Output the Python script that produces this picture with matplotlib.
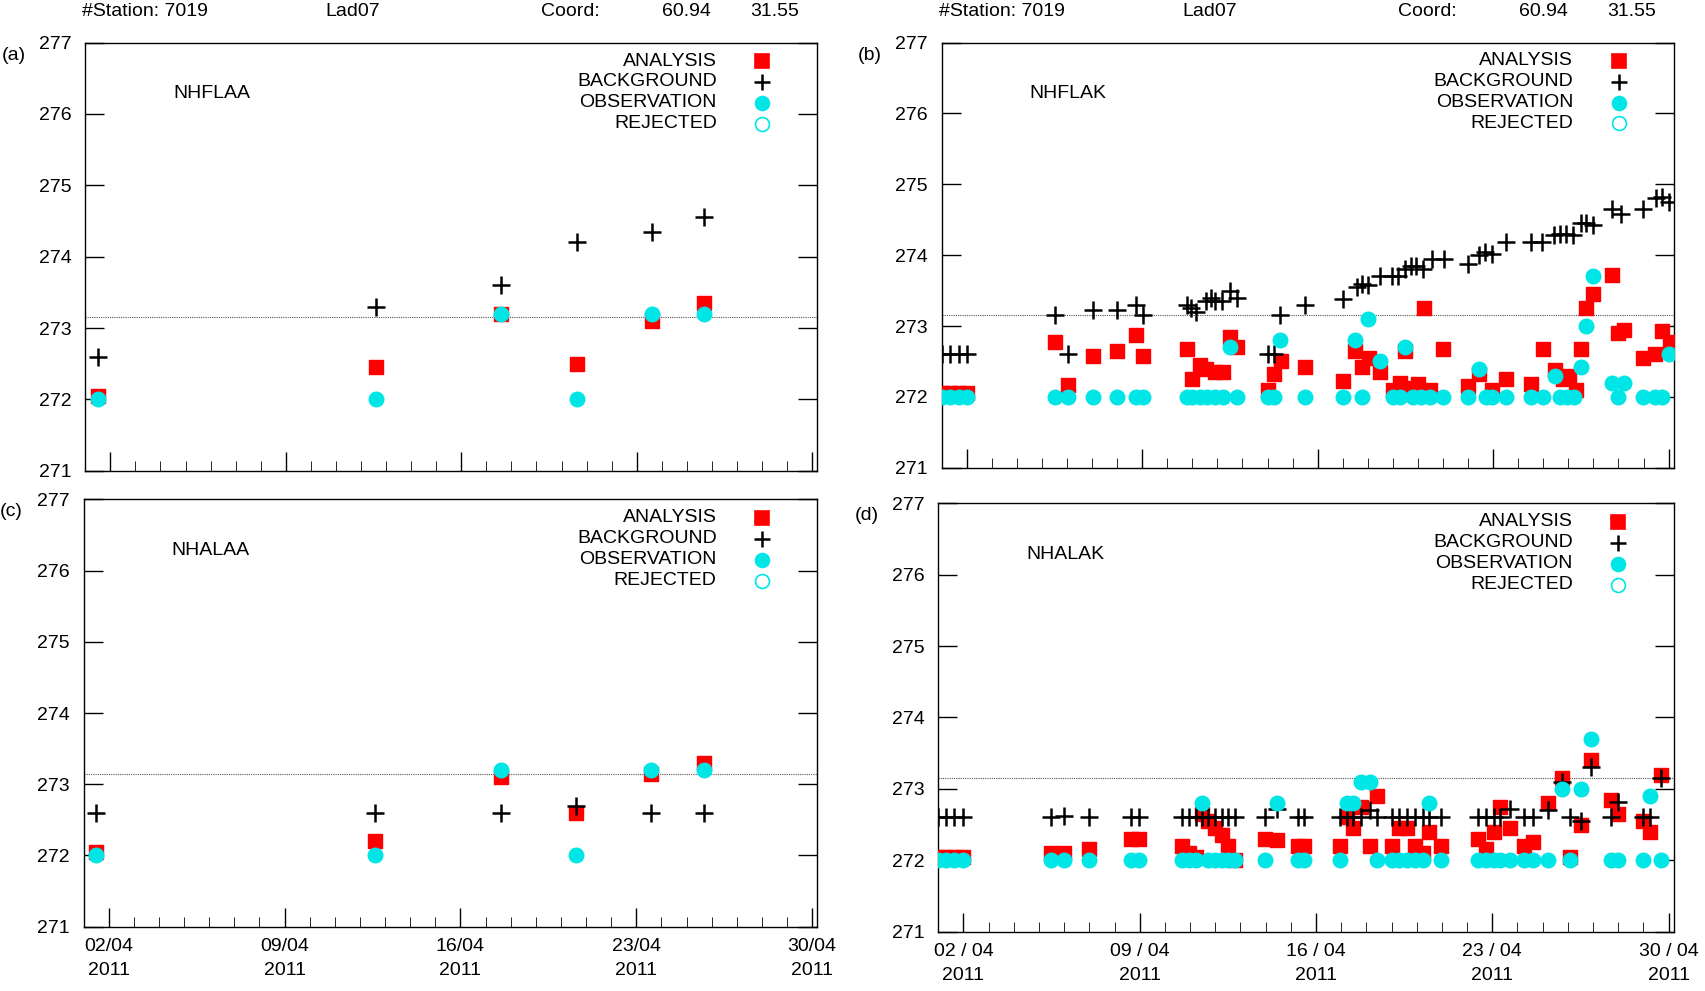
import matplotlib
matplotlib.use("Agg")
import matplotlib.pyplot as plt

plt.rcParams['font.family'] = ['Liberation Sans', 'DejaVu Sans']

# ---- Panel (a)/(c) data ----
ac_days = [1.5, 12.6, 17.6, 20.6, 23.6, 25.7]
a_ana = [272.05, 272.45, 273.2, 272.5, 273.1, 273.35]
a_bg = [272.6, 273.3, 273.6, 274.2, 274.35, 274.55]
a_obs = [272.0, 272.0, 273.2, 272.0, 273.2, 273.2]
c_ana = [272.05, 272.2, 273.1, 272.6, 273.15, 273.3]
c_bg = [272.6, 272.6, 272.6, 272.7, 272.6, 272.6]
c_obs = [272.0, 272.0, 273.2, 272.0, 273.2, 273.2]

# ---- Panel (b) data ----
b_bg_days = [1.03, 1.35, 1.67, 2.0, 5.53, 6.03, 7.02, 8.01, 8.77, 9.05, 10.77, 10.94, 11.16, 11.53, 11.74,
             11.9, 12.17, 12.5, 12.78, 14.0, 14.26, 14.5, 15.5, 17.0, 17.56, 17.78, 18.0, 18.5, 18.96, 19.2,
             19.5, 19.72, 19.93, 20.2, 20.58, 21.05, 22.0, 22.45, 22.67, 22.95, 23.5, 24.5, 24.96, 25.43,
             25.68, 25.9, 26.17, 26.5, 26.7, 26.98, 27.73, 28.1, 28.97, 29.5, 29.73, 30.0]
b_bg = [272.6, 272.6, 272.6, 272.6, 273.15, 272.6, 273.22, 273.22, 273.3, 273.15, 273.3, 273.25, 273.2,
        273.35, 273.4, 273.35, 273.35, 273.5, 273.4, 272.6, 272.6, 273.15, 273.3, 273.38, 273.55, 273.6,
        273.58, 273.7, 273.7, 273.7, 273.8, 273.85, 273.85, 273.8, 273.95, 273.95, 273.88, 274.0, 274.05,
        274.02, 274.18, 274.18, 274.18, 274.28, 274.3, 274.3, 274.28, 274.45, 274.45, 274.42, 274.65,
        274.58, 274.65, 274.8, 274.82, 274.75]
b_ana_days = [1.03, 1.35, 1.67, 2.0, 5.53, 6.03, 7.02, 8.01, 8.77, 9.05, 10.77, 11.0, 11.3, 11.53, 11.9,
              12.24, 12.5, 12.78, 14.0, 14.26, 14.54, 15.5, 17.0, 17.5, 17.78, 18.05, 18.5, 19.0, 19.27,
              19.5, 19.72, 20.0, 20.26, 20.5, 21.0, 22.0, 22.45, 22.95, 23.5, 24.5, 25.0, 25.47, 25.78,
              26.02, 26.3, 26.5, 26.72, 26.98, 27.73, 27.97, 28.23, 28.97, 29.47, 29.73, 30.05]
b_ana = [272.05, 272.05, 272.05, 272.05, 272.78, 272.17, 272.58, 272.65, 272.87, 272.58, 272.68, 272.25,
         272.45, 272.4, 272.35, 272.35, 272.85, 272.7, 272.1, 272.32, 272.5, 272.42, 272.23, 272.65, 272.42,
         272.55, 272.35, 272.1, 272.2, 272.65, 272.12, 272.18, 273.25, 272.1, 272.68, 272.15, 272.32, 272.1,
         272.25, 272.18, 272.68, 272.38, 272.25, 272.3, 272.1, 272.68, 273.25, 273.45, 273.72, 272.9, 272.95,
         272.55, 272.6, 272.93, 272.78]
b_obs_days = [1.03, 1.35, 1.67, 2.0, 5.53, 6.03, 7.02, 8.01, 8.77, 9.05, 10.77, 11.0, 11.3, 11.58, 11.9,
              12.24, 12.5, 12.78, 14.0, 14.26, 14.5, 15.5, 17.0, 17.5, 17.78, 18.0, 18.5, 19.0, 19.27, 19.5,
              19.8, 20.12, 20.5, 21.0, 22.0, 22.45, 22.7, 22.95, 23.5, 24.5, 25.0, 25.47, 25.68, 25.95, 26.23,
              26.5, 26.72, 26.98, 27.73, 27.97, 28.23, 28.97, 29.47, 29.73, 30.0]
b_obs = [272.0, 272.0, 272.0, 272.0, 272.0, 272.0, 272.0, 272.0, 272.0, 272.0, 272.0, 272.0, 272.0, 272.0,
         272.0, 272.0, 272.7, 272.0, 272.0, 272.0, 272.8, 272.0, 272.0, 272.8, 272.0, 273.1, 272.5, 272.0,
         272.0, 272.7, 272.0, 272.0, 272.0, 272.0, 272.0, 272.4, 272.0, 272.0, 272.0, 272.0, 272.0, 272.3,
         272.0, 272.0, 272.0, 272.42, 273.0, 273.7, 272.2, 272.0, 272.2, 272.0, 272.0, 272.0, 272.6]

# ---- Panel (d) data ----
d_days = [0.99, 1.31, 1.63, 2.0, 5.47, 6.0, 6.98, 8.64, 8.96, 10.69, 10.97, 11.22, 11.48, 11.72, 11.97,
          12.26, 12.52, 12.8, 13.98, 14.46, 15.28, 15.53, 16.94, 17.22, 17.47, 17.8, 18.16, 18.44, 19.0,
          19.3, 19.63, 19.95, 20.23, 20.49, 20.97, 22.43, 22.75, 23.08, 23.29, 23.72, 24.26, 24.63, 25.23,
          25.77, 26.09, 26.53, 26.91, 27.71, 27.99, 29.0, 29.28, 29.69]
d_bg = [272.6, 272.6, 272.6, 272.6, 272.6, 272.62, 272.6, 272.6, 272.6, 272.6, 272.6, 272.6, 272.6, 272.6,
        272.6, 272.6, 272.6, 272.6, 272.6, 272.72, 272.6, 272.6, 272.6, 272.6, 272.6, 272.6, 272.7, 272.6,
        272.6, 272.6, 272.6, 272.6, 272.6, 272.6, 272.6, 272.6, 272.6, 272.6, 272.6, 272.72, 272.6, 272.6,
        272.7, 273.1, 272.6, 272.55, 273.3, 272.6, 272.82, 272.6, 272.6, 273.15]
d_ana = [272.05, 272.05, 272.05, 272.05, 272.1, 272.1, 272.15, 272.3, 272.3, 272.2, 272.1, 272.05, 272.65,
         272.55, 272.45, 272.35, 272.2, 272.0, 272.3, 272.28, 272.2, 272.2, 272.2, 272.6, 272.45, 272.75,
         272.2, 272.9, 272.2, 272.45, 272.45, 272.2, 272.1, 272.4, 272.2, 272.3, 272.15, 272.4, 272.75,
         272.45, 272.2, 272.25, 272.8, 273.15, 272.05, 272.5, 273.4, 272.85, 272.65, 272.55, 272.4, 273.2]
d_obs = [272.0, 272.0, 272.0, 272.0, 272.0, 272.0, 272.0, 272.0, 272.0, 272.0, 272.0, 272.0, 272.8, 272.0,
         272.0, 272.0, 272.0, 272.0, 272.0, 272.8, 272.0, 272.0, 272.0, 272.8, 272.8, 273.1, 273.1, 272.0,
         272.0, 272.0, 272.0, 272.0, 272.0, 272.8, 272.0, 272.0, 272.0, 272.0, 272.0, 272.0, 272.0, 272.0,
         272.0, 273.0, 272.0, 273.0, 273.7, 272.0, 272.0, 272.0, 272.9, 272.0]

major_days = [2, 9, 16, 23, 30]
c_labels = ["02/04\n2011", "09/04\n2011", "16/04\n2011", "23/04\n2011", "30/04\n2011"]
d_labels = ["02 / 04\n2011", "09 / 04\n2011", "16 / 04\n2011", "23 / 04\n2011", "30 / 04\n2011"]

RED = '#ff0000'
CYAN = '#00e5e5'

fig = plt.figure(figsize=(17.06, 9.91), dpi=100)
rects = {'a': [0.050, 0.525, 0.429, 0.432], 'b': [0.552, 0.528, 0.429, 0.429],
         'c': [0.049, 0.065, 0.430, 0.431], 'd': [0.550, 0.060, 0.431, 0.432]}
panels = {
    'a': (ac_days, a_ana, ac_days, a_bg, ac_days, a_obs, 'NHFLAA', None),
    'b': (b_ana_days, b_ana, b_bg_days, b_bg, b_obs_days, b_obs, 'NHFLAK', None),
    'c': (ac_days, c_ana, ac_days, c_bg, ac_days, c_obs, 'NHALAA', c_labels),
    'd': (d_days, d_ana, d_days, d_bg, d_days, d_obs, 'NHALAK', d_labels),
}
for key, (xa, ya, xb, yb, xo, yo, name, labels) in panels.items():
    ax = fig.add_axes(rects[key])
    ax.axhline(273.15, color='#555555', lw=0.8, ls=(0, (1, 1)))
    ax.scatter(xa, ya, marker='s', s=110, color=RED, zorder=3)
    ax.scatter(xb, yb, marker='+', s=180, color='black', linewidths=1.8, zorder=4)
    ax.scatter(xo, yo, marker='o', s=110, color=CYAN, zorder=5)
    ax.set_xlim(1, 30.2)
    ax.set_ylim(271, 277)
    ax.set_yticks(range(271, 278))
    ax.set_xticks(major_days)
    ax.set_xticks(range(1, 31), minor=True)
    ax.tick_params(axis='both', direction='in', length=14, width=1, labelsize=14, right=True)
    ax.tick_params(axis='x', which='minor', direction='in', length=7)
    ax.tick_params(axis='y', pad=10)
    ax.tick_params(axis='x', pad=8)
    if labels:
        ax.set_xticklabels(labels, fontsize=14, linespacing=1.6)
    else:
        ax.set_xticklabels([])
    for s in ax.spines.values():
        s.set_linewidth(1.0)
    ax.text(0.12, 0.87, name, transform=ax.transAxes, fontsize=14)
    leg = [('ANALYSIS', 's', RED, 'full'), ('BACKGROUND', '+', 'black', 'full'),
           ('OBSERVATION', 'o', CYAN, 'full'), ('REJECTED', 'o', CYAN, 'none')]
    for i, (t, m, c, fill) in enumerate(leg):
        yy = 0.957 - i * 0.049
        ax.text(0.863, yy, t, transform=ax.transAxes, fontsize=14, ha='right', va='center')
        ax.plot([0.925], [yy], transform=ax.transAxes, marker=m, color=c, ms=10 if m != '+' else 12,
                mew=1.8 if m == '+' else 1.2, fillstyle=fill, ls='none', clip_on=False)
    x0, y0 = rects[key][0], rects[key][1] + rects[key][3]
    fig.text(x0 - 0.049, y0 - 0.004, f'({key})', fontsize=14, va='top')

for dx in [0.0, 0.5023]:
    for txt, xx in [('#Station: 7019', 0.048), ('Lad07', 0.191), ('Coord:', 0.317),
                    ('60.94', 0.388), ('31.55', 0.440)]:
        fig.text(xx + dx, 0.988, txt, fontsize=14, va='center')

fig.savefig('out.png', dpi=100)
